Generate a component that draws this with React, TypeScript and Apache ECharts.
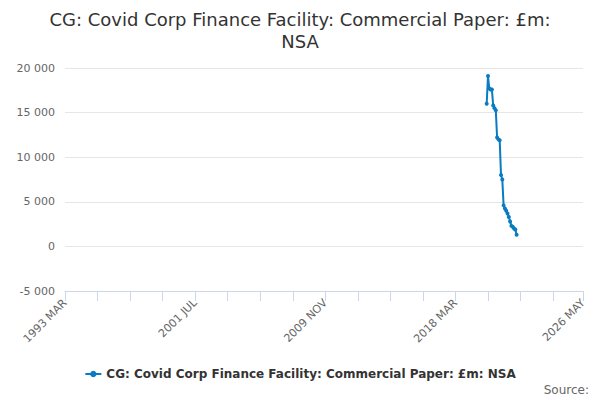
import React, { useEffect, useRef } from "react";
import * as echarts from "echarts";

// x values: months since 1993 MAR
const months: number[] = [
  324, 325, 326, 327, 328, 329, 330, 331, 332, 333, 334, 335,
  336, 337, 338, 339, 340, 341, 342, 343, 344, 345, 346, 347,
];
const values: number[] = [
  16000, 19100, 17700, 17600, 17600, 15800, 15500, 15250, 12200, 12000, 11900, 8000,
  7500, 4600, 4250, 4000, 3700, 3300, 2800, 2300, 2200, 2000, 1900, 1300,
];
const MONTHS = ["JAN", "FEB", "MAR", "APR", "MAY", "JUN", "JUL", "AUG", "SEP", "OCT", "NOV", "DEC"];
const seriesName = "CG: Covid Corp Finance Facility: Commercial Paper: £m: NSA";
const titleText = "CG: Covid Corp Finance Facility: Commercial Paper: £m:\nNSA";

const FONT = "DejaVu Sans";

function fmtMonth(v: number): string {
  const m = 2 + Math.round(v);
  const y = 1993 + Math.floor(m / 12);
  return y + " " + MONTHS[m % 12];
}

export default function App() {
  const ref = useRef<HTMLDivElement>(null);
  useEffect(() => {
    if (!ref.current) return;
    const chart = echarts.init(ref.current, undefined, { renderer: "svg" });
    const data = months.map((m, i) => [m, values[i]]);
    chart.setOption({
      animation: false,
      textStyle: { fontFamily: FONT },
      title: {
        text: titleText,
        left: "center",
        top: 3,
        textStyle: { fontFamily: FONT, fontSize: 18, fontWeight: "normal", color: "#333333", lineHeight: 22 },
      },
      legend: {
        bottom: 15,
        left: "center",
        itemWidth: 16,
        itemHeight: 8,
        textStyle: { fontFamily: FONT, fontSize: 12, fontWeight: "bold", color: "#333333" },
        data: [seriesName],
      },
      grid: { left: 65, right: 17, top: 68, bottom: 109, containLabel: false },
      xAxis: {
        type: "value",
        min: 0,
        max: 398,
        interval: 25,
        axisLine: { show: true, onZero: false, lineStyle: { color: "#ccd6eb" } },
        axisTick: { show: true, length: 10, lineStyle: { color: "#ccd6eb" } },
        splitLine: { show: false },
        axisLabel: {
          rotate: 45,
          margin: 10,
          color: "#666666",
          fontSize: 11,
          fontFamily: FONT,
          showMaxLabel: true,
          formatter: (v: number) => {
            if (Math.abs(v - 398) < 0.5 || Math.round(v) % 100 === 0) return fmtMonth(v);
            return "";
          },
        },
      },
      yAxis: {
        type: "value",
        min: -5000,
        max: 20000,
        interval: 5000,
        axisLine: { show: false },
        axisTick: { show: false },
        splitLine: { lineStyle: { color: "#e6e6e6" } },
        axisLabel: {
          color: "#666666",
          fontSize: 11,
          fontFamily: FONT,
          margin: 10,
          formatter: (v: number) => {
            const s = Math.abs(v).toString().replace(/\B(?=(\d{3})+(?!\d))/g, " ");
            return (v < 0 ? "-" : "") + s;
          },
        },
      },
      series: [
        {
          name: seriesName,
          type: "line",
          data,
          symbol: "circle",
          symbolSize: 4,
          showSymbol: true,
          lineStyle: { width: 2, color: "#0a7bc1" },
          itemStyle: { color: "#0a7bc1" },
        },
      ],
      graphic: [
        {
          type: "text",
          right: 11,
          top: 384,
          style: { text: "Source:", fill: "#666666", fontSize: 12, fontFamily: FONT },
        },
      ],
    });
    return () => chart.dispose();
  }, []);
  return (
    <div
      ref={ref}
      style={{ position: "absolute", left: 0, top: 0, width: 600, height: 400, background: "#ffffff" }}
    />
  );
}
